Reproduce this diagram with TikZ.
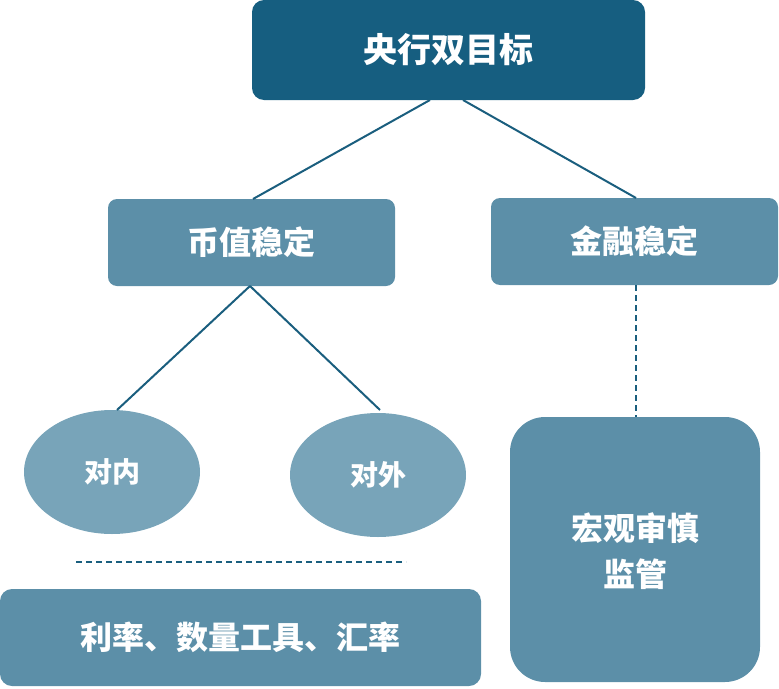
\documentclass[tikz,border=0pt]{standalone}
\usepackage{fontspec}
\setmainfont{Noto Sans CJK SC}
\usetikzlibrary{shapes.geometric}
\definecolor{topc}{HTML}{165E80}
\definecolor{midc}{HTML}{5C8FA8}
\definecolor{ellc}{HTML}{78A4B9}
\definecolor{linec}{HTML}{1A5E7E}
\begin{document}
\begin{tikzpicture}[x=1pt,y=-1pt,
  box/.style={fill=midc,rounded corners=9pt,text=white,font=\bfseries\fontsize{32}{36}\selectfont},
  ell/.style={ellipse,fill=ellc,text=white,minimum width=176pt,minimum height=124pt,font=\bfseries\fontsize{28}{32}\selectfont},
  conn/.style={linec,line width=2pt}]
\useasboundingbox (0,0) rectangle (779,688);
\fill[topc,rounded corners=12pt] (252,0) rectangle (645,100);
\node[text=white,font=\bfseries\fontsize{34}{40}\selectfont] (top) at (448,50) {央行双目标};
\fill[midc,rounded corners=9pt] (108,199) rectangle (395,286);
\node[text=white,font=\bfseries\fontsize{32}{36}\selectfont] (bz) at (251,242) {币值稳定};
\fill[midc,rounded corners=9pt] (491,198) rectangle (778,285);
\node[text=white,font=\bfseries\fontsize{32}{36}\selectfont] (jr) at (634,241) {金融稳定};
\node[ell] (dn) at (112,472) {对内};
\node[ell] (dw) at (378,475) {对外};
\fill[midc,rounded corners=12pt] (0,589) rectangle (481,686);
\node[text=white,font=\bfseries\fontsize{32}{36}\selectfont] (tools) at (240,637) {利率、数量工具、汇率};
\fill[midc,rounded corners=35pt] (510,417) rectangle (760,682);
\node[text=white,align=center,font=\bfseries\fontsize{32}{46}\selectfont] (hg) at (635,551) {宏观审慎\\监管};
\coordinate (t1) at (430,100); \coordinate (t2) at (463,100);
\coordinate (b1) at (253,199); \coordinate (j1) at (636,198);
\coordinate (bb) at (250,286); \coordinate (d1) at (117,410); \coordinate (d2) at (380,410);
\coordinate (jb) at (636,285); \coordinate (ht) at (636,417);
\coordinate (l1) at (76,562); \coordinate (l2) at (406,562);
\draw[conn] (t1) -- (b1);
\draw[conn] (t2) -- (j1);
\draw[conn] (bb) -- (d1);
\draw[conn] (bb) -- (d2);
\draw[conn,dash pattern=on 6pt off 4pt] (jb) -- (ht);
\draw[conn,dash pattern=on 6pt off 4pt] (l1) -- (l2);
\end{tikzpicture}
\end{document}
